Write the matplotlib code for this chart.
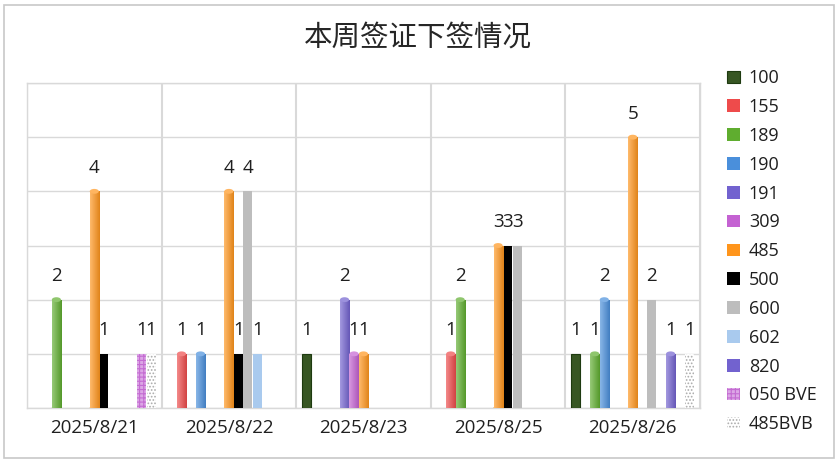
import numpy as np
import matplotlib.pyplot as plt
from matplotlib.patches import Ellipse, Rectangle
from matplotlib.colors import to_rgb

plt.rcParams['font.family'] = ['Open Sans', 'Noto Sans CJK SC', 'DejaVu Sans']
plt.rcParams['hatch.linewidth'] = 0.8

title = '本周签证下签情况'
dates = ['2025/8/21', '2025/8/22', '2025/8/23', '2025/8/25', '2025/8/26']
series = ['100', '155', '189', '190', '191', '309', '485', '500', '600', '602', '820', '050 BVE', '485BVB']

# values per series, one per date (0 = no bar)
v100 = [0, 0, 1, 0, 1]
v155 = [0, 1, 0, 1, 0]
v189 = [2, 0, 0, 2, 1]
v190 = [0, 1, 0, 0, 2]
v191 = [0, 0, 2, 0, 0]
v309 = [0, 0, 1, 0, 0]
v485 = [4, 4, 1, 3, 5]
v500 = [1, 1, 0, 3, 0]
v600 = [0, 4, 0, 3, 2]
v602 = [0, 1, 0, 0, 0]
v820 = [0, 0, 0, 0, 1]
v050bve = [1, 0, 0, 0, 0]
v485bvb = [1, 0, 0, 0, 1]
values = [v100, v155, v189, v190, v191, v309, v485, v500, v600, v602, v820, v050bve, v485bvb]

colors = ['#375623', '#EE4B4B', '#5FAD2F', '#4A8FDB', '#7262CF', '#C462D2', '#FF951C',
          '#000000', '#BDBDBD', '#A9CAEE', '#7262CF', '#DCA6E6', '#FFFFFF']
cylinder = [False, True, True, True, True, True, True, False, False, False, True, False, False]

fig = plt.figure(figsize=(8.39, 4.63), dpi=100)
fig.patches.append(Rectangle((4 / 839, 5 / 463), 830 / 839, 453 / 463, transform=fig.transFigure,
                             fill=False, edgecolor='#C8C8C8', linewidth=1.2))
ax = fig.add_axes([27 / 839, 55 / 463, 673 / 839, 325 / 463])

slot = 0.0704
x = np.arange(len(dates))


def lighten(c, f):
    r, g, b = to_rgb(c)
    return (r + (1 - r) * f, g + (1 - g) * f, b + (1 - b) * f)


def darken(c, f):
    r, g, b = to_rgb(c)
    return (r * (1 - f), g * (1 - f), b * (1 - f))


for i, (name, vals) in enumerate(zip(series, values)):
    xs = x + (i - 6) * slot
    hs = np.array(vals, dtype=float)
    keep = hs > 0
    kw = dict(width=slot * 0.96, color=colors[i], linewidth=0, zorder=3, label=name)
    if name == '050 BVE':
        kw.update(edgecolor='#C46CD2', hatch='++++')
    elif name == '485BVB':
        kw.update(edgecolor='#ABABAB', hatch='.....')
    elif name == '100':
        kw.update(edgecolor='#1E3A10', linewidth=0.8)
    bars = ax.bar(xs[keep], hs[keep], **kw)
    if cylinder[i]:
        # horizontal shading to mimic the cylinder look
        grad = np.linspace(0, 1, 64)
        lo = np.array(lighten(colors[i], 0.35))
        hi = np.array(darken(colors[i], 0.12))
        cols = np.array([lo + (hi - lo) * g for g in grad])[None, :, :]
        for b in bars:
            bx, bw, bh = b.get_x(), b.get_width(), b.get_height()
            im = ax.imshow(cols, extent=[bx, bx + bw, 0, bh], aspect='auto', zorder=3.5,
                           interpolation='bilinear')
            im.set_clip_path(b)
            ax.add_patch(Ellipse((bx + bw / 2, bh), bw, 0.09, facecolor=lighten(colors[i], 0.3),
                                 edgecolor='none', zorder=4))
            ax.add_patch(Ellipse((bx + bw / 2, 0.0), bw, 0.09, facecolor=hi,
                                 edgecolor='none', zorder=3.4))
    for b in bars:
        ax.annotate('%d' % b.get_height(), (b.get_x() + b.get_width() / 2, b.get_height()),
                    xytext=(0, 17), textcoords='offset points', ha='center', va='center',
                    fontsize=13.5, color='#1F1F1F', zorder=6)

ax.set_xlim(-0.5, len(dates) - 0.5)
ax.set_ylim(0, 6)
ax.set_yticks(range(0, 7))
ax.set_yticklabels([])
ax.tick_params(axis='y', length=0)
ax.set_xticks(x)
ax.set_xticklabels(dates, fontsize=13.5, color='#1F1F1F')
ax.tick_params(axis='x', length=0, pad=8)
ax.set_xticks(np.arange(len(dates) + 1) - 0.5, minor=True)
ax.tick_params(axis='x', which='minor', length=0)
ax.grid(axis='y', color='#D9D9D9', linewidth=1, zorder=0)
ax.grid(axis='x', which='minor', color='#D9D9D9', linewidth=1.5, zorder=0)
ax.grid(axis='x', which='major', visible=False)
for s in ax.spines.values():
    s.set_color('#D9D9D9')
    s.set_linewidth(1)
ax.set_axisbelow(True)

fig.text(418 / 839, 1 - 39 / 463, title, ha='center', va='center', fontsize=20.5,
         color='#262626')

handles, labels = ax.get_legend_handles_labels()
leg = fig.legend(handles, labels, loc='upper left', bbox_to_anchor=(720 / 839, 1 - 62 / 463),
                 frameon=False, fontsize=13, handlelength=0.7, handleheight=0.7,
                 handletextpad=0.5, labelspacing=0.6, borderaxespad=0)
for t in leg.get_texts():
    t.set_color('#1F1F1F')

fig.savefig('out.png', dpi=100)
